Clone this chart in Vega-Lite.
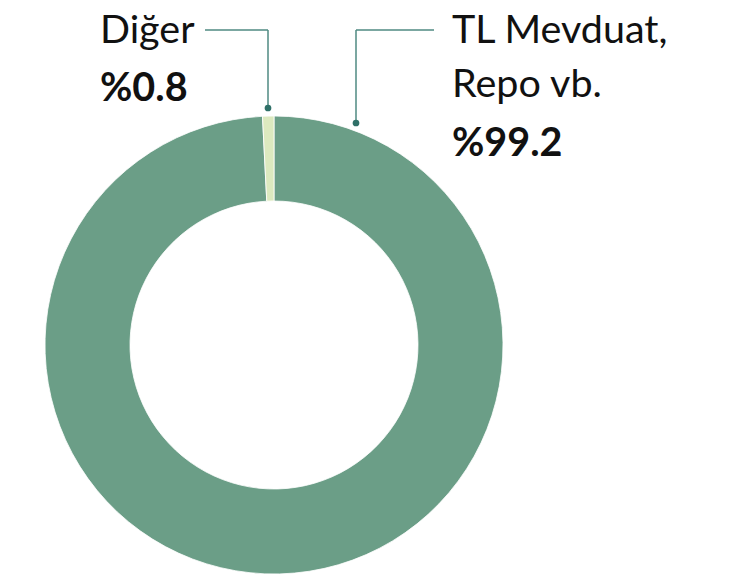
{
  "$schema": "https://vega.github.io/schema/vega-lite/v6.json",
  "width": 750,
  "height": 577,
  "autosize": "none",
  "padding": 0,
  "background": "#ffffff",
  "config": {"view": {"stroke": null}},
  "datasets": {
    "slices": [
      {"label": "TL Mevduat, Repo vb.", "value": 99.2, "ord": 1},
      {"label": "Diğer", "value": 0.8, "ord": 2}
    ],
    "leaders": [
      {"x": -69, "y": 315, "x2": -6, "y2": 315},
      {"x": -6, "y": 315, "x2": -6, "y2": 237},
      {"x": 160, "y": 315, "x2": 82, "y2": 315},
      {"x": 82, "y": 315, "x2": 82, "y2": 222}
    ],
    "dots": [{"x": -6, "y": 237}, {"x": 82, "y": 222}],
    "labels": [
      {"x": -174, "y": 302, "text": "Diğer", "kind": "name"},
      {"x": -174, "y": 244, "text": "%0.8", "kind": "value"},
      {"x": 178, "y": 302, "text": "TL Mevduat,", "kind": "name"},
      {"x": 178, "y": 248, "text": "Repo vb.", "kind": "name"},
      {"x": 178, "y": 189, "text": "%99.2", "kind": "value"}
    ]
  },
  "layer": [
    {
      "data": {"name": "slices"},
      "mark": {"type": "arc", "outerRadius": 229, "innerRadius": 144, "stroke": "#ffffff", "strokeWidth": 0.8},
      "encoding": {
        "theta": {"field": "value", "type": "quantitative", "stack": true},
        "order": {"field": "ord", "type": "quantitative"},
        "x": {"datum": 0, "type": "quantitative", "scale": {"domain": [-274, 476], "nice": false, "zero": false}, "axis": null},
        "y": {"datum": 0, "type": "quantitative", "scale": {"domain": [-232, 345], "nice": false, "zero": false}, "axis": null},
        "color": {"field": "label", "type": "nominal", "scale": {"domain": ["TL Mevduat, Repo vb.", "Diğer"], "range": ["#6b9e87", "#dce9bf"]}, "legend": null}
      }
    },
    {
      "data": {"name": "leaders"},
      "mark": {"type": "rule", "color": "#4f8a82", "strokeWidth": 1.5},
      "encoding": {
        "x": {"field": "x", "type": "quantitative", "axis": null},
        "y": {"field": "y", "type": "quantitative", "axis": null},
        "x2": {"field": "x2"},
        "y2": {"field": "y2"}
      }
    },
    {
      "data": {"name": "dots"},
      "mark": {"type": "circle", "color": "#2f7068", "opacity": 1, "size": 45},
      "encoding": {
        "x": {"field": "x", "type": "quantitative", "axis": null},
        "y": {"field": "y", "type": "quantitative", "axis": null}
      }
    },
    {
      "data": {"name": "labels"},
      "transform": [{"filter": "datum.kind === 'name'"}],
      "mark": {"type": "text", "font": "Lato", "fontSize": 39.5, "align": "left", "baseline": "alphabetic", "color": "#111111"},
      "encoding": {
        "x": {"field": "x", "type": "quantitative", "axis": null},
        "y": {"field": "y", "type": "quantitative", "axis": null},
        "text": {"field": "text"}
      }
    },
    {
      "data": {"name": "labels"},
      "transform": [{"filter": "datum.kind === 'value'"}],
      "mark": {"type": "text", "font": "Lato", "fontSize": 39.5, "fontWeight": "bold", "align": "left", "baseline": "alphabetic", "color": "#111111"},
      "encoding": {
        "x": {"field": "x", "type": "quantitative", "axis": null},
        "y": {"field": "y", "type": "quantitative", "axis": null},
        "text": {"field": "text"}
      }
    }
  ],
  "resolve": {"scale": {"x": "shared", "y": "shared"}}
}
